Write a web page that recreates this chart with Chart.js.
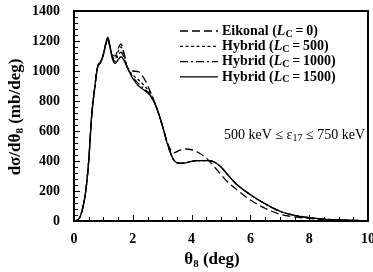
<!DOCTYPE html>
<html lang="en">
<head>
<meta charset="UTF-8">
<script src="https://cdn.jsdelivr.net/npm/chart.js"></script>
<title>dsigma / dtheta8</title>
<style>
  html, body { margin: 0; padding: 0; background: #fff; }
</style>
</head>
<body>
<canvas id="chart" width="373" height="272"></canvas>
<script>
    // theta_8 grid (deg)
    const theta = [0, 0.1, 0.2, 0.3, 0.4, 0.5, 0.6, 0.7, 0.8, 0.9, 1.0, 1.1, 1.15, 1.2, 1.3, 1.4, 1.5, 1.6, 1.7, 1.8,
        2.0, 2.2, 2.4, 2.6, 2.8, 3.0, 3.2, 3.4, 3.6, 3.8, 4.0, 4.2, 4.4, 4.6, 4.8, 5.0, 5.2, 5.5, 6.0, 6.5,
        7.0, 7.5, 8.0, 8.5, 9.0, 9.5, 10];

    // d sigma / d theta_8 (mb/deg)
    const eikonal = [0, 5, 25, 90, 200, 400, 700, 880, 1030, 1060, 1110, 1190, 1210, 1180, 1110, 1100, 1150, 1180, 1120, 1030,
        1000, 995, 945, 860, 760, 640, 510, 455, 472, 480, 475, 460, 435, 400, 355, 310, 265, 215, 140, 85,
        45, 28, 17, 10, 6, 3, 2];
    const hybrid500 = [0, 5, 25, 90, 200, 400, 700, 880, 1030, 1060, 1110, 1195, 1220, 1185, 1100, 1080, 1130, 1160, 1110, 1030,
        975, 940, 900, 850, 760, 640, 500, 405, 385, 388, 398, 402, 403, 402, 390, 360, 315, 250, 175, 115,
        65, 38, 22, 12, 7, 4, 2];
    const hybrid1000 = [0, 5, 25, 90, 200, 400, 700, 880, 1025, 1058, 1110, 1198, 1222, 1185, 1095, 1065, 1105, 1125, 1090, 1030,
        960, 915, 880, 840, 760, 640, 500, 405, 385, 388, 398, 402, 403, 402, 390, 360, 315, 250, 175, 115,
        65, 38, 22, 12, 7, 4, 2];
    const hybrid1500 = [0, 5, 25, 90, 200, 400, 700, 880, 1020, 1055, 1110, 1200, 1225, 1185, 1085, 1050, 1075, 1095, 1070, 1030,
        950, 900, 870, 835, 760, 640, 500, 405, 385, 388, 398, 402, 403, 402, 390, 360, 315, 250, 175, 115,
        65, 38, 22, 12, 7, 4, 2];

    const seriesNames = ['Eikonal', 'Hybrid', 'Hybrid', 'Hybrid'];
    const seriesLc = ['0', '500', '1000', '1500'];
    const seriesDash = [[8, 4], [3, 2.5], [8, 3, 2, 3], []];

    const serif = '"Liberation Serif", "DejaVu Serif", serif';

    function pts(ys) {
        return theta.map((t, i) => ({ x: t, y: ys[i] }));
    }

    // draws a run of [text, font, dy] pieces starting at x, y
    function drawRuns(ctx, runs, x, y) {
        for (const r of runs) {
            ctx.font = r[1];
            ctx.fillText(r[0], x, y + (r[2] || 0));
            x += ctx.measureText(r[0]).width;
        }
        return x;
    }
    function runsWidth(ctx, runs) {
        let w = 0;
        for (const r of runs) { ctx.font = r[1]; w += ctx.measureText(r[0]).width; }
        return w;
    }

    // frame and inward ticks, drawn as filled boxes
    function drawFrame(chart) {
        const ctx = chart.ctx;
        const xs = chart.scales.x, ys = chart.scales.y;
        const L = Math.round(xs.getPixelForValue(0)), R = Math.round(xs.getPixelForValue(10));
        const B = Math.round(ys.getPixelForValue(0)), T = Math.round(ys.getPixelForValue(1400));
        ctx.save();
        ctx.globalAlpha = 1;
        ctx.fillStyle = '#000';
        ctx.fillRect(L - 1, T - 1, R - L + 2, 2);
        ctx.fillRect(L - 1, B - 1, R - L + 2, 2);
        ctx.fillRect(L - 1, T - 1, 2, B - T + 2);
        ctx.fillRect(R - 1, T - 1, 2, B - T + 2);
        for (let k = 0; k <= 20; k++) {
            const px = Math.round(xs.getPixelForValue(k * 0.5));
            const len = k % 4 === 0 ? 6 : 4;
            ctx.fillRect(px, B - len, 1, len);
        }
        for (let k = 0; k <= 35; k++) {
            const py = Math.round(ys.getPixelForValue(k * 40));
            const len = k % 5 === 0 ? 6 : 4;
            ctx.fillRect(L, py, len, 1);
        }
        ctx.restore();
    }

    const decor = {
        id: 'decor',
        beforeDatasetsDraw(chart) {
            drawFrame(chart);
        },
        afterDraw(chart) {
            const ctx = chart.ctx;
            ctx.save();
            ctx.fillStyle = '#000';
            ctx.strokeStyle = '#000';
            ctx.textBaseline = 'middle';
            ctx.textAlign = 'left';
            const big = 'bold 17px ' + serif;
            const sub = 'bold 11px ' + serif;

            // x title
            const xr = [['\u03b8', big], ['8', sub, 4], [' (deg)', big]];
            drawRuns(ctx, xr, 212 - runsWidth(ctx, xr) / 2, 260);

            // y title
            const yr = [['d\u03c3/d\u03b8', big], ['8', sub, 4], [' (mb/deg)', big]];
            ctx.save();
            ctx.translate(16, 117);
            ctx.rotate(-Math.PI / 2);
            drawRuns(ctx, yr, -runsWidth(ctx, yr) / 2, 0);
            ctx.restore();

            // energy window note
            const nf = '14px ' + serif;
            const ns = '10px ' + serif;
            const nr = [['500 keV \u2264 \u03b5', nf], ['17', ns, 3], [' \u2264 750 keV', nf]];
            drawRuns(ctx, nr, 365 - runsWidth(ctx, nr), 135);

            // legend
            const lf = 'bold 14px ' + serif;
            const li = 'bold italic 14px ' + serif;
            const ls = 'bold 10px ' + serif;
            for (let i = 0; i < seriesNames.length; i++) {
                const y = 31 + i * 15.3;
                ctx.setLineDash(seriesDash[i]);
                ctx.lineWidth = 1.3;
                ctx.beginPath();
                ctx.moveTo(180, y);
                ctx.lineTo(218, y);
                ctx.stroke();
                ctx.setLineDash([]);
                drawRuns(ctx, [[seriesNames[i] + ' (', lf], ['L', li], ['C', ls, 3],
                    ['\u2009=\u2009' + seriesLc[i] + ')', lf]], 222, y);
            }
            ctx.restore();

            drawFrame(chart);
        }
    };

    const sets = [eikonal, hybrid500, hybrid1000, hybrid1500].map((ys, i) => ({
        label: seriesNames[i] + ' (LC=' + seriesLc[i] + ')',
        data: pts(ys),
        borderColor: '#000',
        borderWidth: 1.3,
        borderDash: seriesDash[i],
        pointRadius: 0,
        fill: false,
        cubicInterpolationMode: 'monotone'
    }));

    new Chart(document.getElementById('chart'), {
        type: 'line',
        data: { datasets: sets },
        options: {
            responsive: false,
            animation: false,
            layout: { padding: { top: 11, right: 5, left: 0, bottom: 0 } },
            plugins: { legend: { display: false }, tooltip: { enabled: false } },
            scales: {
                x: {
                    type: 'linear', min: 0, max: 10,
                    grid: { display: false, drawTicks: false },
                    border: { display: false },
                    ticks: { stepSize: 2, padding: 10, color: '#000', font: { family: serif, size: 14, weight: 'bold' } },
                    afterFit: s => { s.height = 51; s.paddingLeft = 0; s.paddingRight = 0; }
                },
                y: {
                    min: 0, max: 1400,
                    grid: { display: false, drawTicks: false },
                    border: { display: false },
                    ticks: {
                        stepSize: 200, padding: 14, color: '#000', font: { family: serif, size: 14, weight: 'bold' },
                        callback: v => String(v)
                    },
                    afterFit: s => { s.width = 74; s.paddingTop = 0; s.paddingBottom = 0; }
                }
            }
        },
        plugins: [decor]
    });
</script>
</body>
</html>
